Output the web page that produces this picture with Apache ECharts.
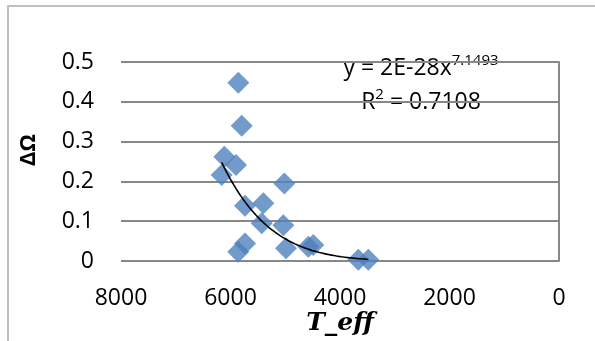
<!DOCTYPE html>
<html>
<head>
<meta charset="utf-8">
<script src="https://cdn.jsdelivr.net/npm/echarts@6/dist/echarts.min.js"></script>
<style>
  html, body { margin: 0; padding: 0; background: #fff; }
  #chart { width: 595px; height: 341px; }
</style>
</head>
<body>
<div id="chart"></div>
<script>
// effective temperature (K) and ΔΩ
var tEff = [5857, 5796, 6113, 5900, 6161, 5017, 5735, 5400, 5430, 5035, 5858, 5735, 4986, 4579, 4488, 3666, 3483];
var deltaOmega = [0.448, 0.340, 0.262, 0.241, 0.216, 0.195, 0.139, 0.145, 0.095, 0.090, 0.023, 0.044, 0.032, 0.036, 0.040, 0.003, 0.003];
var xTicks = [0, 2000, 4000, 6000, 8000];
var yTicks = [0, 0.1, 0.2, 0.3, 0.4, 0.5];
// power trendline shown on the chart: y = 2E-28 x^7.1493
var fitCoef = 2e-28;
var fitPow = 7.1493;
var fitR2 = 0.7108;

var lo = Math.min.apply(null, tEff), hi = Math.max.apply(null, tEff);
var trend = [];
for (var i = 0; i <= 60; i++) {
    var x = lo + (hi - lo) * i / 60;
    trend.push([x, fitCoef * Math.pow(x, fitPow)]);
}

var font = '"Open Sans", sans-serif';
var eqRich = {
    a: {fontSize: 23, fontFamily: font, fill: '#000', lineHeight: 30},
    s: {fontSize: 15, fontFamily: font, fill: '#000', lineHeight: 14, verticalAlign: 'top'}
};
var myChart = echarts.init(document.getElementById('chart'), null, {renderer: 'canvas'});
myChart.setOption({
    animation: false,
    grid: {left: 121, right: 36, top: 62, bottom: 80},
    xAxis: {
        type: 'value',
        inverse: true,
        min: xTicks[0],
        max: xTicks[xTicks.length - 1],
        interval: 2000,
        axisLine: {show: false},
        axisTick: {show: false},
        splitLine: {show: false},
        axisLabel: {
            fontSize: 23, fontFamily: font, color: '#000', margin: 26,
            formatter: function (v) { return String(v); }
        }
    },
    yAxis: [{
        type: 'value',
        min: yTicks[0],
        max: yTicks[yTicks.length - 1],
        interval: 0.1,
        axisLine: {show: false},
        axisTick: {show: false},
        splitLine: {show: true, lineStyle: {color: '#888', width: 2}},
        axisLabel: {fontSize: 23, fontFamily: font, color: '#000', margin: 27}
    }, {
        type: 'value',
        position: 'right',
        min: 0, max: 0.5, interval: 0.1,
        axisLine: {show: true, lineStyle: {color: '#888', width: 2}},
        axisTick: {show: false},
        axisLabel: {show: false},
        splitLine: {show: false}
    }],
    series: [{
        type: 'scatter',
        symbol: 'diamond',
        symbolSize: 22,
        itemStyle: {color: '#4f81bd'},
        data: tEff.map(function (t, k) { return [t, deltaOmega[k]]; }),
        z: 2
    }, {
        type: 'line',
        showSymbol: false,
        data: trend,
        lineStyle: {color: '#000', width: 1.6},
        z: 3
    }],
    graphic: [{
        type: 'rect',
        shape: {x: 8, y: 6, width: 700, height: 500},
        style: {fill: 'none', stroke: '#c0c0c0', lineWidth: 2},
        silent: true
    }, {
        type: 'text',
        x: 29, y: 150,
        rotation: Math.PI / 2,
        style: {
            text: 'ΔΩ', fontSize: 22, fontWeight: 'bold', fontFamily: font,
            fill: '#000', align: 'center', verticalAlign: 'middle'
        }
    }, {
        type: 'text',
        x: 340, y: 323,
        style: {
            text: 'T_eff', fontSize: 25, fontStyle: 'italic', fontWeight: 'bold',
            fontFamily: '"DejaVu Serif", serif', fill: '#000',
            align: 'center', verticalAlign: 'middle'
        }
    }, {
        type: 'text',
        x: 421, y: 68,
        style: {
            text: '{a|y = 2E-28x}{s|' + fitPow + '}',
            align: 'center', verticalAlign: 'middle',
            rich: eqRich
        }
    }, {
        type: 'text',
        x: 421, y: 102,
        style: {
            text: '{a|R}{s|2}{a| = ' + fitR2 + '}',
            align: 'center', verticalAlign: 'middle',
            rich: eqRich
        }
    }]
});
</script>
</body>
</html>
